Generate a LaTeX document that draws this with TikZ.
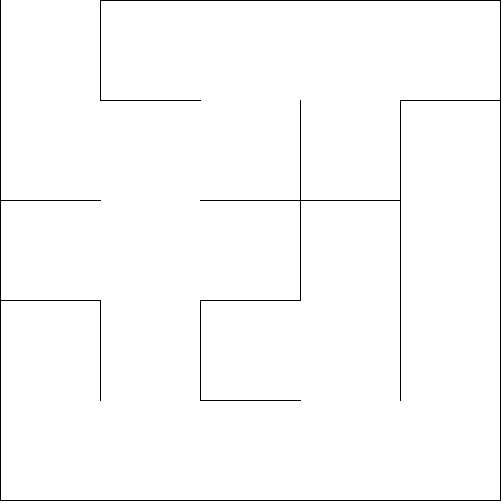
\documentclass[tikz,border=0pt]{standalone}
\usepackage{tikz}
\begin{document}
\begin{tikzpicture}[x=1cm,y=-1cm]
\tikzset{wall/.style={draw=black,line width=0.35pt,line cap=rect}}
\useasboundingbox (-0.005,-0.005) rectangle (5.025,5.035);
% outer walls
\draw[wall] (0,0)--(0,5)--(5,5)--(5,0)--(1,0);
% inner walls
\draw[wall] (1,0)--(1,1)--(2,1);
\draw[wall] (3,1)--(3,3)--(2,3)--(2,4)--(3,4);
\draw[wall] (5,1)--(4,1)--(4,4);
\draw[wall] (0,2)--(1,2); \draw[wall] (2,2)--(4,2);
\draw[wall] (0,3)--(1,3)--(1,4);
\end{tikzpicture}
\end{document}
